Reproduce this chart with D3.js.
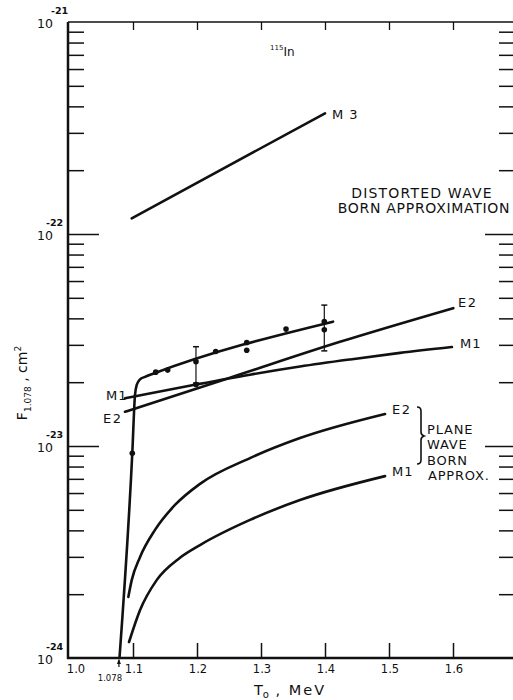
<!DOCTYPE html>
<html><head><meta charset="utf-8">
<script src="https://cdn.jsdelivr.net/npm/d3@7"></script>
<style>
html,body{margin:0;padding:0;background:#fff;}
svg{display:block;}
text{font-family:"DejaVu Sans",sans-serif;fill:#111;}
</style></head><body>
<svg id="c" width="513" height="700"></svg>
<script>
// ---- data (T0 in MeV, F in cm^2) ----
const xTicks = [1.1, 1.2, 1.3, 1.4, 1.5, 1.6];
const xTickLabels = ["1.0", "1.1", "1.2", "1.3", "1.4", "1.5", "1.6"];
const yDecades = [1e-24, 1e-23, 1e-22, 1e-21];
const yDecadeExp = ["-24", "-23", "-22", "-21"];
const thresholdT = 1.078;

const expT = [1.0989, 1.1355, 1.1542, 1.1984, 1.1984, 1.2292, 1.2777, 1.2777, 1.3391, 1.3989, 1.3989];
const expF = [9.24e-24, 2.23e-23, 2.28e-23, 2.50e-23, 1.95e-23, 2.79e-23, 3.08e-23, 2.83e-23, 3.56e-23, 3.86e-23, 3.53e-23];
const errT = [1.1984, 1.3989];
const errLo = [1.98e-23, 2.81e-23];
const errHi = [2.94e-23, 4.62e-23];

const fitT = [1.0789, 1.0989, 1.1031, 1.1058, 1.1109, 1.1188, 1.1292, 1.4125];
const fitF = [1.0e-24, 9.27e-24, 1.74e-23, 1.94e-23, 2.06e-23, 2.12e-23, 2.18e-23, 3.86e-23];

const m3T = [1.098, 1.400];
const m3F = [1.186e-22, 3.71e-22];

const dwM1T = [1.0875, 1.1984, 1.2828, 1.3609, 1.4391, 1.5172, 1.5984];
const dwM1F = [1.68e-23, 1.95e-23, 2.17e-23, 2.37e-23, 2.56e-23, 2.75e-23, 2.93e-23];

const dwE2T = [1.0875, 1.2516, 1.4234, 1.6005];
const dwE2F = [1.45e-23, 2.10e-23, 3.10e-23, 4.47e-23];

const pwE2T = [1.0927, 1.098, 1.1109, 1.1344, 1.1656, 1.2047, 1.2828, 1.3609, 1.4938];
const pwE2F = [1.94e-24, 2.33e-24, 2.99e-24, 4.02e-24, 5.27e-24, 6.63e-24, 8.77e-24, 1.09e-23, 1.416e-23];

const pwM1T = [1.0938, 1.1109, 1.137, 1.1734, 1.2047, 1.2828, 1.3609, 1.4938];
const pwM1F = [1.19e-24, 1.68e-24, 2.33e-24, 2.97e-24, 3.41e-24, 4.48e-24, 5.56e-24, 7.21e-24];

// ---- scales ----
const svg = d3.select("#c");
const x = d3.scaleLinear().domain([1.0, 1.7]).range([69, 517]);
const y = d3.scaleLog().domain([1e-24, 1e-21]).range([658, 22]);

const zip = (a, b) => a.map((v, i) => [v, b[i]]);
const line = d3.line().x(d => x(d[0])).y(d => y(d[1]));
const smooth = d3.line().x(d => x(d[0])).y(d => y(d[1])).curve(d3.curveMonotoneX);

// minor ticks
const minors = [];
for (let e = -24; e < -21; e++) for (let m = 2; m <= 9; m++) minors.push(m * Math.pow(10, e));

// ---- axes ----
const g = svg.append("g");
function styleAxis(sel, w) {
  sel.select(".domain").remove();
  sel.selectAll("line").attr("stroke", "#111").attr("stroke-width", w);
  sel.selectAll("text").remove();
}
// left
g.append("g").attr("transform", "translate(68,0)")
  .call(d3.axisRight(y).tickValues(minors).tickSize(16)).call(s => styleAxis(s, 1.5));
g.append("g").attr("transform", "translate(68,0)")
  .call(d3.axisRight(y).tickValues(yDecades.slice(1, 3)).tickSize(31)).call(s => styleAxis(s, 1.5));
// right
g.append("g").attr("transform", "translate(514,0)")
  .call(d3.axisLeft(y).tickValues(minors).tickSize(15)).call(s => styleAxis(s, 1.5));
g.append("g").attr("transform", "translate(514,0)")
  .call(d3.axisLeft(y).tickValues(yDecades.slice(1, 3)).tickSize(29)).call(s => styleAxis(s, 1.5));
// bottom
g.append("g").attr("transform", "translate(0,658)")
  .call(d3.axisTop(x).tickValues(xTicks).tickSize(15)).call(s => styleAxis(s, 1.5));
// top
g.append("g").attr("transform", "translate(0,22)")
  .call(d3.axisBottom(x).tickValues(xTicks).tickSize(8)).call(s => styleAxis(s, 1.3));

// frame lines
svg.append("line").attr("x1", 68).attr("x2", 68).attr("y1", y(1e-21)).attr("y2", y(1e-24) + 1)
  .attr("stroke", "#111").attr("stroke-width", 2.5);
svg.append("line").attr("x1", 67).attr("x2", 513).attr("y1", y(1e-24)).attr("y2", y(1e-24))
  .attr("stroke", "#111").attr("stroke-width", 2.5);
svg.append("line").attr("x1", 68).attr("x2", 513).attr("y1", y(1e-21)).attr("y2", y(1e-21))
  .attr("stroke", "#111").attr("stroke-width", 1.3);

// x tick labels
const xLabVals = [1.0].concat(xTicks);
svg.selectAll(".xl").data(xLabVals).enter().append("text")
  .attr("x", (d, i) => x(d) + (i === 0 ? 7 : 1)).attr("y", 673)
  .attr("text-anchor", "middle").attr("font-size", 11.5)
  .text((d, i) => xTickLabels[i]);
// threshold marker
svg.append("line").attr("x1", x(thresholdT)).attr("x2", x(thresholdT)).attr("y1", 667).attr("y2", 660)
  .attr("stroke", "#111").attr("stroke-width", 1.2);
svg.append("path").attr("d", `M${x(thresholdT) - 2},${664} L${x(thresholdT)},${659} L${x(thresholdT) + 2},${664} Z`)
  .attr("fill", "#111");
svg.append("text").attr("x", x(thresholdT) - 9).attr("y", 681).attr("text-anchor", "middle")
  .attr("font-size", 8.5).text("1.078");

// y decade labels
const ylab = svg.selectAll(".yl").data(yDecades).enter().append("g");
ylab.append("text").attr("x", 53).attr("y", d => y(d) + 6)
  .attr("text-anchor", "end").attr("font-size", 12.5).text("10");
ylab.append("text").attr("x", (d, i) => i === 3 ? 51 : 46).attr("y", d => y(d) - 8)
  .attr("font-size", 9.5).attr("font-weight", "bold").text((d, i) => yDecadeExp[i]);

// axis titles
const yt = svg.append("text").attr("transform", "translate(27,383) rotate(-90)")
  .attr("text-anchor", "middle").attr("font-size", 14);
yt.append("tspan").text("F");
yt.append("tspan").attr("font-size", 9).attr("dy", 4).text("1.078");
yt.append("tspan").attr("dy", -4).text(" ,  cm");
yt.append("tspan").attr("font-size", 9).attr("dy", -6).text("2");

const xt = svg.append("text").attr("x", 290).attr("y", 695).attr("text-anchor", "middle").attr("font-size", 14.5);
xt.append("tspan").text("T");
xt.append("tspan").attr("font-size", 10).attr("dy", 3).text("o");
xt.append("tspan").attr("dy", -3).attr("letter-spacing", 2).text(" ,  MeV");

// ---- curves ----
const curveStyle = s => s.attr("fill", "none").attr("stroke", "#111").attr("stroke-width", 2.6).attr("stroke-linecap", "round");
svg.append("path").attr("d", smooth(zip(fitT, fitF))).call(curveStyle);
svg.append("path").attr("d", line(zip(m3T, m3F))).call(curveStyle);
svg.append("path").attr("d", smooth(zip(dwM1T, dwM1F))).call(curveStyle);
svg.append("path").attr("d", smooth(zip(dwE2T, dwE2F))).call(curveStyle);
svg.append("path").attr("d", smooth(zip(pwE2T, pwE2F))).call(curveStyle);
svg.append("path").attr("d", smooth(zip(pwM1T, pwM1F))).call(curveStyle);

// error bars
errT.forEach((t, i) => {
  const cx = x(t);
  svg.append("line").attr("x1", cx).attr("x2", cx).attr("y1", y(errLo[i])).attr("y2", y(errHi[i]))
    .attr("stroke", "#111").attr("stroke-width", 1.2);
  [errLo[i], errHi[i]].forEach(v => svg.append("line").attr("x1", cx - 3).attr("x2", cx + 3)
    .attr("y1", y(v)).attr("y2", y(v)).attr("stroke", "#111").attr("stroke-width", 1.5));
});
// points
svg.selectAll(".pt").data(zip(expT, expF)).enter().append("circle")
  .attr("cx", d => x(d[0])).attr("cy", d => y(d[1])).attr("r", 2.8).attr("fill", "#111");

// ---- labels ----
function lab(t, xx, yy, fs, anchor) {
  return svg.append("text").attr("x", xx).attr("y", yy).attr("font-size", fs)
    .attr("text-anchor", anchor || "start").text(t);
}
const inLab = svg.append("text").attr("x", 270).attr("y", 56).attr("font-size", 12);
inLab.append("tspan").attr("font-size", 7).attr("dy", -6).text("115");
inLab.append("tspan").attr("dy", 6).text("In");
lab("M 3", 332, 119, 13).attr("letter-spacing", 1);
lab("DISTORTED WAVE", 422, 198, 14, "middle").attr("letter-spacing", 1.2);
lab("BORN APPROXIMATION", 424, 213, 14, "middle").attr("letter-spacing", 0.7);
lab("E2", 458, 307, 13).attr("letter-spacing", 1.5);
lab("M1", 460, 348, 13).attr("letter-spacing", 1);
lab("M1", 106, 400, 13).attr("letter-spacing", 1);
lab("E2", 103, 423, 13).attr("letter-spacing", 1.5);
lab("E2", 392, 414, 13).attr("letter-spacing", 1.5);
lab("M1", 392, 476, 13).attr("letter-spacing", 1);
lab("PLANE", 427, 434, 13).attr("letter-spacing", 0.8);
lab("WAVE", 427, 449, 13).attr("letter-spacing", 0.8);
lab("BORN", 427, 465, 13).attr("letter-spacing", 0.8);
lab("APPROX.", 428, 480, 13).attr("letter-spacing", 0.8);
// brace
svg.append("path").attr("d", "M417,407 Q421,407 421,411 L421,432 Q421,435 424,436 Q421,437 421,440 L421,460 Q421,464 417,464")
  .attr("fill", "none").attr("stroke", "#111").attr("stroke-width", 1.6);
</script>
</body></html>
